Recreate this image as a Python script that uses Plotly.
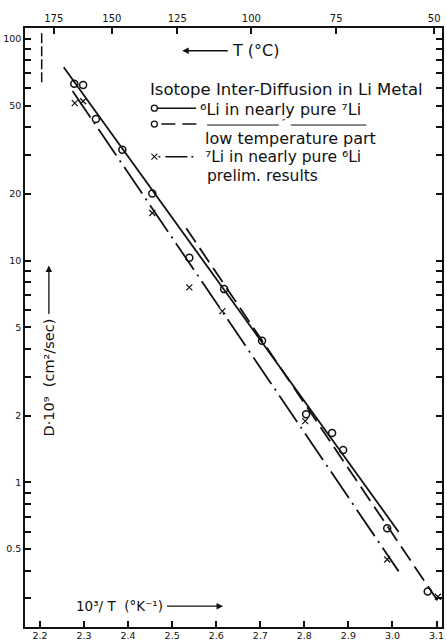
import plotly.graph_objects as go

# ---------------- data ----------------
# open circles: 6Li in nearly pure 7Li
circ_x = [2.278, 2.298, 2.327, 2.387, 2.455, 2.539, 2.618, 2.704, 2.804, 2.863, 2.888, 2.988, 3.080]
circ_y = [62.8, 61.9, 43.5, 31.6, 20.1, 10.3, 7.44, 4.35, 2.03, 1.67, 1.40, 0.621, 0.322]
# crosses: 7Li in nearly pure 6Li (prelim. results)
cross_x = [2.279, 2.298, 2.455, 2.539, 2.614, 2.802, 2.988, 3.103]
cross_y = [51.3, 52.3, 16.4, 7.58, 5.92, 1.89, 0.449, 0.305]
# fitted lines
solid_x = [2.254, 3.014]
solid_y = [74.5, 0.598]
lowt_x = [2.532, 3.105]
lowt_y = [14.0, 0.288]
dashdot_x = [2.274, 3.014]
dashdot_y = [58.2, 0.397]
# melting point marker
melt_x = [2.204, 2.204]
melt_y = [106.0, 63.6]

# ticks
x_ticks = [2.2, 2.3, 2.4, 2.5, 2.6, 2.7, 2.8, 2.9, 3.0, 3.1]
x_tick_labels = ["2.2", "2.3", "2.4", "2.5", "2.6", "2.7", "2.8", "2.9", "3.0", "3.1"]
t_celsius = [175, 150, 125, 100, 75, 50]
t_labels = ["175", "150", "125", "100", "75", "50"]
y_major = [0.5, 1, 2, 5, 10, 20, 50, 100]
y_major_labels = ["0.5", "1", "2", "5", "10", "20", "50", "100"]
y_minor = [0.3, 0.4, 0.6, 0.7, 0.8, 0.9, 3, 4, 6, 7, 8, 9, 30, 40, 60, 70, 80, 90]

# ---------------- layout geometry ----------------
W, H = 447, 644
L, R, T, B = 25, 3, 28, 11
pw, ph = W - L - R, H - T - B
FONT = "DejaVu Sans"
INK = "#111111"


def xp(v):
    return (v - L) / pw


def yp(v):
    return (H - B - v) / ph


fig = go.Figure()

fig.add_trace(go.Scatter(x=solid_x, y=solid_y, mode="lines",
                         line=dict(color=INK, width=1.8), showlegend=False))
fig.add_trace(go.Scatter(x=lowt_x, y=lowt_y, mode="lines",
                         line=dict(color=INK, width=1.8, dash="17px,7px"), showlegend=False))
fig.add_trace(go.Scatter(x=dashdot_x, y=dashdot_y, mode="lines",
                         line=dict(color=INK, width=1.8, dash="32px,6px,2px,6px"), showlegend=False))
fig.add_trace(go.Scatter(x=melt_x, y=melt_y, mode="lines",
                         line=dict(color=INK, width=1.5, dash="10px,3px"), showlegend=False))
fig.add_trace(go.Scatter(x=circ_x, y=circ_y, mode="markers",
                         marker=dict(symbol="circle-open", size=7, color=INK, line=dict(width=1.5)),
                         showlegend=False))
fig.add_trace(go.Scatter(x=cross_x, y=cross_y, mode="markers",
                         marker=dict(symbol="x-thin-open", size=6, color=INK, line=dict(width=1.2)),
                         showlegend=False))
# empty trace so the top (temperature) axis is drawn
fig.add_trace(go.Scatter(x=[], y=[], xaxis="x2", showlegend=False, hoverinfo="skip"))

x0 = 2.2 - (40 - L) / 442.8
x_range = [x0, x0 + pw / 442.8]

tick_common = dict(ticks="inside", ticklen=6, tickwidth=1.5, tickcolor=INK,
                   showline=True, linecolor=INK, linewidth=1.5,
                   showgrid=False, zeroline=False)

fig.update_layout(
    width=W, height=H,
    margin=dict(l=L, r=R, t=T, b=B),
    paper_bgcolor="white", plot_bgcolor="white",
    font=dict(family=FONT, color=INK),
    xaxis=dict(range=x_range, tickmode="array", tickvals=x_ticks, ticktext=x_tick_labels,
               mirror=False, ticklabelstandoff=-1,
               tickfont=dict(size=9.5, family=FONT), **tick_common),
    xaxis2=dict(overlaying="x", side="top", range=x_range, tickmode="array",
                tickvals=[1000.0 / (t + 273.15) for t in t_celsius], ticktext=t_labels,
                tickfont=dict(size=10, family=FONT), **tick_common),
    yaxis=dict(type="log", range=[-0.652, 2.049], tickmode="array",
               tickvals=y_major, ticktext=y_major_labels, mirror="ticks",
               minor=dict(tickmode="array", tickvals=y_minor, ticks="inside", ticklen=6,
                          tickwidth=1.5, tickcolor=INK, showgrid=False),
               tickfont=dict(size=9.5, family=FONT), **tick_common),
)

ann = []
shapes = []


def text(x, y, s, size=14, anchor="left", angle=0):
    ann.append(dict(x=xp(x), y=yp(y), xref="paper", yref="paper", text=s, showarrow=False,
                    xanchor=anchor, yanchor="middle", textangle=angle, borderpad=0,
                    font=dict(size=size, family=FONT, color=INK)))


def arrow_text(xh, yh, s, ax, ay, size, angle=0):
    # text with an arrow from the text box to the head point (xh, yh)
    ann.append(dict(x=xp(xh), y=yp(yh), xref="paper", yref="paper", text=s, showarrow=True,
                    ax=ax, ay=ay, arrowhead=2, arrowsize=1, arrowwidth=1.3, arrowcolor=INK,
                    standoff=0, startstandoff=4, textangle=angle, borderpad=0,
                    font=dict(size=size, family=FONT, color=INK)))


def hline(x0_, x1_, y, dash="solid", width=1.5):
    shapes.append(dict(type="line", xref="paper", yref="paper", x0=xp(x0_), x1=xp(x1_),
                       y0=yp(y), y1=yp(y), line=dict(color=INK, width=width, dash=dash)))


def circle(x, y, r=3):
    shapes.append(dict(type="circle", xref="paper", yref="paper", xsizemode="pixel",
                       ysizemode="pixel", xanchor=xp(x), yanchor=yp(y), x0=-r, x1=r, y0=-r, y1=r,
                       line=dict(color=INK, width=1.3)))


def cross(x, y, r=3):
    for s in (1, -1):
        shapes.append(dict(type="line", xref="paper", yref="paper", xsizemode="pixel",
                           ysizemode="pixel", xanchor=xp(x), yanchor=yp(y),
                           x0=-r, x1=r, y0=-r * s, y1=r * s, line=dict(color=INK, width=1.1)))


# temperature arrow + label:  <----  T (°C)
arrow_text(183, 51, "T (°C)", 74, 0, 16)

# legend block
text(150, 90, "Isotope Inter-Diffusion in Li Metal", size=16.5)
circle(155, 109)
hline(158, 197, 109)
text(200, 110, "⁶Li in nearly pure ⁷Li", size=16)
circle(155, 125)
hline(162, 200, 125, dash="14px,7px")
hline(208, 280, 126, width=1.0)
text(285, 124, "″", size=9, anchor="center")
hline(292, 368, 126, width=1.0)
text(205, 140, "low temperature part", size=16)
cross(155, 158)
hline(159, 197, 158, dash="2px,5px,22px,4px")
text(205, 158, "⁷Li in nearly pure ⁶Li", size=15.5)
text(207, 177, "prelim. results", size=15.5)

# axis titles with arrows
arrow_text(49, 268, "D·10⁹  (cm²/sec)", 0, 112, 14.5, angle=-90)
arrow_text(224, 612, "10³/ T  (°K⁻¹)", -104, 0, 13.5)

fig.update_layout(annotations=ann, shapes=shapes)
fig.write_html("out.html", post_script="document.body.style.margin='0';",
               config={"displayModeBar": False})
